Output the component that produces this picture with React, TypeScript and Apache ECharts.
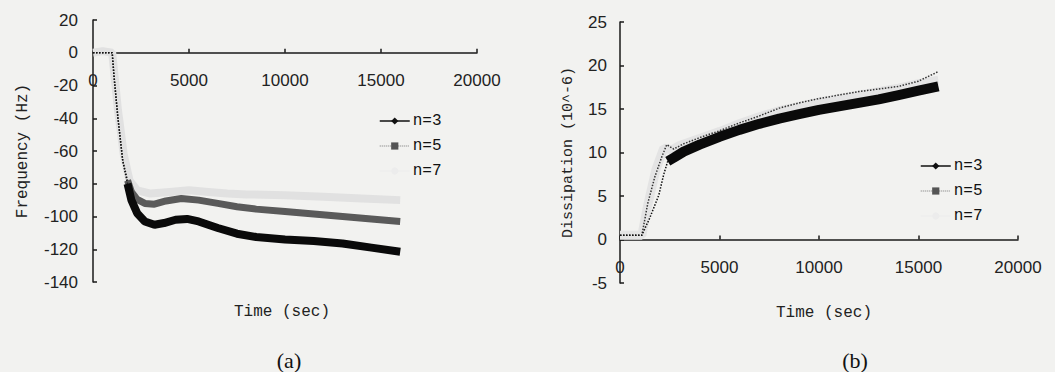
import React, { useEffect, useRef } from "react";
import * as echarts from "echarts";

// ---------- data ----------
const SERIES_NAMES = ["n=3", "n=5", "n=7"];
const X_MAX = 20000;
const X_STEP = 5000;

// (a) Frequency (Hz) vs time (sec)
const FREQ_RANGE = { min: -140, max: 20, step: 20 };
const FREQ_N3: [number, number][] = [
  [0, 0], [1000, 0], [1100, -15], [1300, -40], [1550, -66], [1800, -80],
  [2000, -90], [2300, -98], [2700, -103], [3200, -105], [3700, -104],
  [4300, -102], [4900, -101.5], [5500, -103], [6500, -107], [7500, -110.5],
  [8500, -112.5], [10000, -114], [11500, -115], [13000, -116.5],
  [14500, -119], [16000, -121.5],
];
const FREQ_N5: [number, number][] = [
  [0, 0], [1000, 0], [1100, -15], [1300, -40], [1550, -66], [1800, -78],
  [2000, -85], [2300, -89.5], [2700, -92], [3200, -92.5], [3800, -90.5],
  [4600, -89], [5500, -90], [6500, -92], [7500, -94], [8500, -95.5],
  [10000, -97], [11500, -98.5], [13000, -100], [14500, -101.5], [16000, -103],
];
const FREQ_N7: [number, number][] = [
  [0, 0], [500, 1], [1000, 0], [1300, -35], [1600, -62], [1900, -78],
  [2300, -84], [3000, -86], [4000, -85], [5000, -84], [6000, -85],
  [7000, -86], [8000, -86.5], [10000, -87], [12000, -88], [14000, -89],
  [16000, -90],
];

// (b) Dissipation (10^-6) vs time (sec)
const DISS_RANGE = { min: -5, max: 25, step: 5 };
const DISS_N3: [number, number][] = [
  [0, 0.5], [1100, 0.5], [1500, 2.5], [1950, 5.1], [2200, 7.5], [2400, 9],
  [2700, 9.4], [3200, 10.1], [4000, 10.9], [5000, 11.8], [6000, 12.6],
  [7000, 13.3], [8000, 13.9], [9000, 14.4], [10000, 14.9], [11000, 15.3],
  [12000, 15.7], [13000, 16.1], [14000, 16.6], [15000, 17.1], [16000, 17.6],
];
const DISS_N5: [number, number][] = [
  [0, 0.5], [1100, 0.5], [1400, 4.2], [1750, 7.2], [2100, 9.5], [2350, 10.9],
  [2700, 10.4], [3200, 11], [4000, 11.7], [5000, 12.5], [6000, 13.4],
  [7000, 14.2], [8000, 15.1], [9000, 15.7], [10000, 16.2], [11000, 16.6],
  [12000, 17], [13000, 17.3], [14000, 17.6], [15000, 18.2], [16000, 19.3],
];
const DISS_N7: [number, number][] = [
  [0, 0.5], [1100, 0.5], [1400, 4], [1800, 8], [2200, 10.5], [2600, 10.3],
  [3000, 10.8], [4000, 11.6], [5000, 12.4], [6000, 13.3], [7000, 14.1],
  [8000, 14.8], [9000, 15.3], [10000, 15.8], [11000, 16.2], [12000, 16.6],
  [13000, 17], [14000, 17.4], [15000, 17.9], [16000, 18.3],
];

// time from which the recorded points are dense (drawn as a heavy band)
const FREQ_DENSE_FROM = 1800;
const DISS_DENSE_FROM = 2400;

// ---------- styling ----------
const BG = "#f2f2f0";
const AXIS_COLOR = "#1a1a1a";
const MONO = "'Liberation Mono', 'DejaVu Sans Mono', monospace";
const SANS = "'Liberation Sans', Arial, sans-serif";
const SERIF = "'Liberation Serif', 'Times New Roman', serif";

const GRID_A = { left: 93, top: 20, width: 384, height: 262 };
const GRID_B = { left: 620, top: 22, width: 398, height: 261 };

function splitAt(data: [number, number][], t: number) {
  return {
    sparse: data.filter((d) => d[0] <= t),
    dense: data.filter((d) => d[0] >= t),
  };
}

// the time axis crosses the value axis at zero
function zeroOffset(range: { min: number; max: number }, gridHeight: number) {
  return -gridHeight * (0 - range.min) / (range.max - range.min);
}

function xAxis(gridIndex: number, offset: number) {
  return {
    type: "value",
    gridIndex,
    min: 0,
    max: X_MAX,
    interval: X_STEP,
    offset,
    axisLine: { onZero: false, lineStyle: { color: AXIS_COLOR, width: 1.5 } },
    axisTick: { inside: true, length: 4, lineStyle: { color: AXIS_COLOR, width: 1.5 } },
    axisLabel: { margin: 19, fontSize: 17, fontFamily: SANS, color: "#222", formatter: (v: number) => String(v) },
    splitLine: { show: false },
  };
}

function yAxis(gridIndex: number, range: { min: number; max: number; step: number }, name: string, nameGap: number, nameSize: number, margin: number) {
  return {
    type: "value",
    gridIndex,
    min: range.min,
    max: range.max,
    interval: range.step,
    name,
    nameLocation: "middle",
    nameGap,
    nameRotate: 90,
    nameTextStyle: { fontFamily: MONO, fontSize: nameSize, color: "#222" },
    axisLine: { show: true, onZero: false, lineStyle: { color: AXIS_COLOR, width: 1.5 } },
    axisTick: { show: true, inside: true, length: 4, lineStyle: { color: AXIS_COLOR, width: 1.5 } },
    axisLabel: { margin, fontSize: 17, fontFamily: SANS, color: "#222", formatter: (v: number) => String(v) },
    splitLine: { show: false },
  };
}

const LEGEND_DATA = [
  { name: SERIES_NAMES[0], lineStyle: { color: "#111", width: 1.5, type: "solid" }, itemStyle: { color: "#111" } },
  { name: SERIES_NAMES[1], lineStyle: { color: "#777", width: 1, type: "dotted" }, itemStyle: { color: "#555" } },
  { name: SERIES_NAMES[2], lineStyle: { color: "#ececec", width: 1, type: "solid" }, itemStyle: { color: "#ececec" } },
];

function legend(left: number, top: number) {
  return {
    left,
    top,
    orient: "vertical",
    itemWidth: 30,
    itemHeight: 9,
    itemGap: 7,
    selectedMode: false,
    textStyle: { fontFamily: MONO, fontSize: 16, color: "#111", lineHeight: 18, padding: [0, 0, 0, -2] },
    data: LEGEND_DATA,
  };
}

function buildOption() {
  const f3 = splitAt(FREQ_N3, FREQ_DENSE_FROM);
  const f5 = splitAt(FREQ_N5, FREQ_DENSE_FROM);
  const d3 = splitAt(DISS_N3, DISS_DENSE_FROM);

  const base = { type: "line", showSymbol: false, silent: true };

  return {
    animation: false,
    backgroundColor: BG,
    grid: [GRID_A, GRID_B],
    xAxis: [
      xAxis(0, zeroOffset(FREQ_RANGE, GRID_A.height)),
      xAxis(1, zeroOffset(DISS_RANGE, GRID_B.height)),
    ],
    yAxis: [
      yAxis(0, FREQ_RANGE, "Frequency (Hz)", 62, 16, 15),
      yAxis(1, DISS_RANGE, "Dissipation (10^-6)", 44, 15, 13),
    ],
    legend: [legend(374, 107), legend(915, 152)],
    series: [
      // ---- (a) ----
      { ...base, name: SERIES_NAMES[2], xAxisIndex: 0, yAxisIndex: 0, symbol: "none", z: 2,
        data: FREQ_N7, lineStyle: { color: "#e1e1e1", width: 8 } },
      { ...base, name: "n=5 sparse a", xAxisIndex: 0, yAxisIndex: 0, symbol: "none", z: 3,
        data: f5.sparse, lineStyle: { color: "#333", width: 1.5, type: "dotted" } },
      { ...base, name: SERIES_NAMES[1], xAxisIndex: 0, yAxisIndex: 0, symbol: "rect", symbolSize: 7, z: 3,
        itemStyle: { color: "#555" }, data: f5.dense, lineStyle: { color: "#5a5a5a", width: 7 } },
      { ...base, name: "n=3 sparse a", xAxisIndex: 0, yAxisIndex: 0, symbol: "none", z: 4,
        data: f3.sparse, lineStyle: { color: "#111", width: 1.5, type: "dotted" } },
      { ...base, name: SERIES_NAMES[0], xAxisIndex: 0, yAxisIndex: 0, symbol: "diamond", symbolSize: 8, z: 4,
        itemStyle: { color: "#111" }, data: f3.dense, lineStyle: { color: "#0a0a0a", width: 8 } },
      // ---- (b) ----
      { ...base, name: SERIES_NAMES[2], xAxisIndex: 1, yAxisIndex: 1, symbol: "none", z: 2,
        data: DISS_N7, lineStyle: { color: "#e4e4e4", width: 9 } },
      { ...base, name: SERIES_NAMES[1], xAxisIndex: 1, yAxisIndex: 1, symbol: "rect", symbolSize: 7, z: 3,
        itemStyle: { color: "#555" }, data: DISS_N5, lineStyle: { color: "#333", width: 1.5, type: "dotted" } },
      { ...base, name: "n=3 sparse b", xAxisIndex: 1, yAxisIndex: 1, symbol: "none", z: 4,
        data: d3.sparse, lineStyle: { color: "#111", width: 1.5, type: "dotted" } },
      { ...base, name: SERIES_NAMES[0], xAxisIndex: 1, yAxisIndex: 1, symbol: "diamond", symbolSize: 8, z: 4,
        itemStyle: { color: "#111" }, data: d3.dense, lineStyle: { color: "#0a0a0a", width: 10 } },
    ],
    graphic: [
      { type: "text", x: 282, y: 312, style: { text: "Time (sec)", fontFamily: MONO, fontSize: 16, fill: "#222", align: "center", verticalAlign: "middle" } },
      { type: "text", x: 824, y: 313, style: { text: "Time (sec)", fontFamily: MONO, fontSize: 16, fill: "#222", align: "center", verticalAlign: "middle" } },
      { type: "text", x: 289, y: 360, style: { text: "(a)", fontFamily: SERIF, fontSize: 22, fill: "#111", align: "center", verticalAlign: "middle" } },
      { type: "text", x: 855, y: 360, style: { text: "(b)", fontFamily: SERIF, fontSize: 22, fill: "#111", align: "center", verticalAlign: "middle" } },
    ],
  };
}

export default function App() {
  const ref = useRef<HTMLDivElement>(null);
  useEffect(() => {
    if (!ref.current) return;
    const chart = echarts.init(ref.current, null, { renderer: "svg" });
    chart.setOption(buildOption() as any);
    return () => chart.dispose();
  }, []);
  return (
    <div
      ref={ref}
      style={{ position: "fixed", left: 0, top: 0, width: 1055, height: 372, background: BG }}
    />
  );
}
